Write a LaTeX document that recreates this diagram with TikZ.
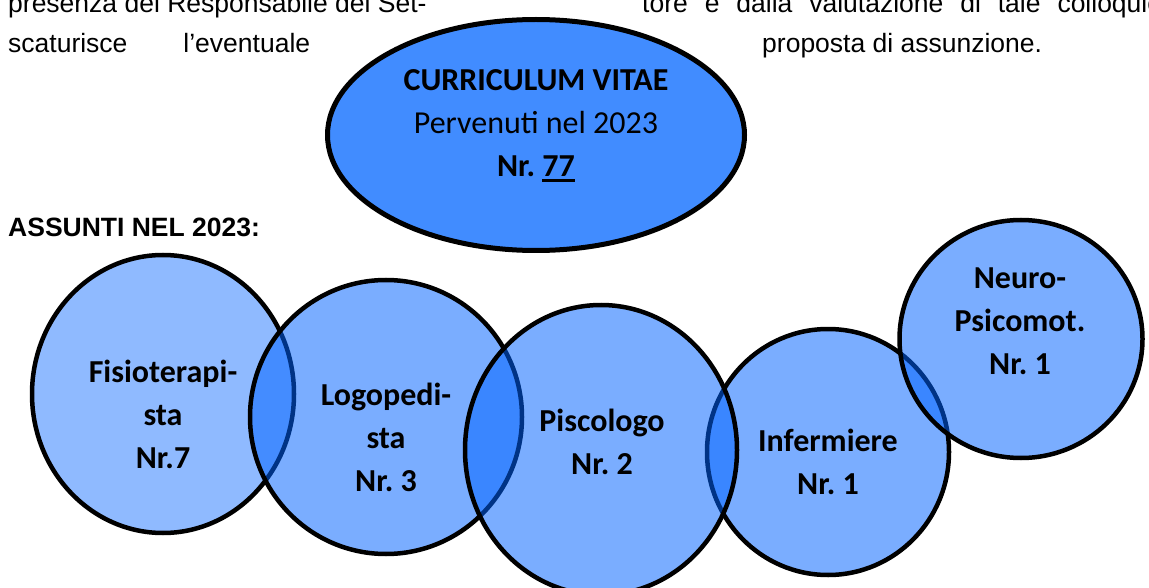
\documentclass[tikz,border=0pt]{standalone}
\usepackage{fontspec}
\setmainfont{Liberation Sans}
\newfontfamily\calibri{Carlito}
\usetikzlibrary{shapes.geometric}
\definecolor{cvblue}{RGB}{65,140,255}
\definecolor{cirblue}{RGB}{0,98,255}
\newcommand{\sottolinea}[1]{\setbox0\hbox{#1}\rlap{\rule[-5pt]{\wd0}{2.6pt}}\box0}
\frenchspacing
\begin{document}
\begin{tikzpicture}[x=1pt,y=-1pt]
		\tikzset{circ/.style={ellipse, draw=black, line width=4.5pt, fill=cirblue, fill opacity=0.52, inner sep=0pt},
			lbl/.style={align=center, text opacity=1, font=\calibri\bfseries\fontsize{32}{43}\selectfont},
			txt/.style={anchor=base west, inner sep=0pt, font=\fontsize{26.5}{30}\selectfont}};

		\clip (0,0) rectangle (1149,588);

		\node[txt] (riga1a) at (8,13) {presenza del Responsabile del Set-};
		\node[txt] (riga1b) at (642,13) {\makebox[520pt][s]{tore e dalla valutazione di tale colloquio}};
		\node[txt] (riga2a) at (8,53) {\makebox[302pt][s]{scaturisce l'eventuale}};
		\node[txt] (riga2b) at (762,53) {proposta di assunzione.};
		\node[txt, font=\bfseries\fontsize{26.5}{30}\selectfont] (assunti) at (8,237) {ASSUNTI NEL 2023:};

		\node[ellipse, draw=black, line width=5pt, fill=cvblue, minimum width=417pt, minimum height=231pt] (cv) at (536,135) {};
		\node[lbl] (cvtxt) at (536,126) {CURRICULUM VITAE\\ \mdseries Pervenuti nel 2023\\ Nr. \sottolinea{77}};

		\node[circ, fill opacity=0.44, minimum width=262pt, minimum height=278pt] (fisio) at (163,394) {};
		\node[circ, minimum width=272pt, minimum height=274pt] (logo) at (386,417) {};
		\node[circ, minimum width=242pt, minimum height=246pt] (infer) at (828,452) {};
		\node[circ, minimum width=272pt, minimum height=290pt] (psico) at (601,450) {};
		\node[circ, minimum width=243pt, minimum height=238pt] (neuro) at (1021,339) {};

		\node[lbl] (fisiotxt) at (163,414) {Fisioterapi-\\sta\\Nr.7};
		\node[lbl] (logotxt) at (386,437) {Logopedi-\\sta\\Nr. 3};
		\node[lbl] (psicotxt) at (602,442) {Piscologo\\Nr. 2};
		\node[lbl] (infertxt) at (828,462) {Infermiere\\Nr. 1};
		\node[lbl] (neurotxt) at (1020,321) {Neuro-\\Psicomot.\\Nr. 1};

	\end{tikzpicture}
\end{document}
